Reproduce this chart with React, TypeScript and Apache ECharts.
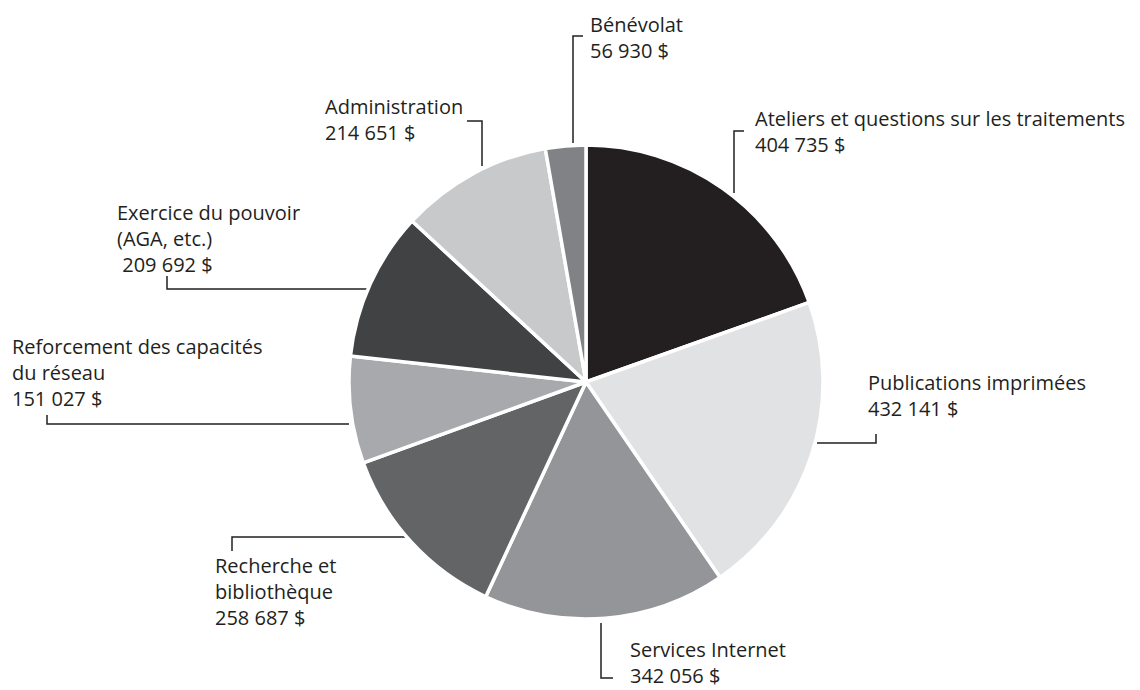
import React, { useEffect, useRef } from "react";
import * as echarts from "echarts";

const categories = [
  "Ateliers et questions sur les traitements",
  "Publications imprimées",
  "Services Internet",
  "Recherche et\nbibliothèque",
  "Reforcement des capacités\ndu réseau",
  "Exercice du pouvoir\n(AGA, etc.)",
  "Administration",
  "Bénévolat",
];
const values = [404735, 432141, 342056, 258687, 151027, 209692, 214651, 56930];
const valuePrefix = ["", "", "", "", "", " ", "", ""];
const colors = ["#231f20", "#e1e2e4", "#939598", "#636466", "#a7a9ac", "#414244", "#c8c9cb", "#808285"];

// layout: label anchor (left x, first baseline) and leader lines
const labelPos: number[][] = [
  [755, 126],
  [868, 390],
  [630, 657],
  [215, 573],
  [12, 354],
  [117, 220],
  [325, 114],
  [590, 32],
];
const leaders: number[][][] = [
  [[734, 193], [734, 131], [744, 131]],
  [[817, 443], [876, 443], [876, 434]],
  [[601, 623], [601, 678], [613, 678]],
  [[406, 537], [232, 537], [232, 551]],
  [[349, 424], [47, 424], [47, 415]],
  [[368, 289], [167, 289], [167, 276]],
  [[482, 166], [482, 121], [467, 121]],
  [[573, 143], [573, 36], [583, 36]],
];

const FONT = '"Open Sans", sans-serif';
const BASE_OFF = 21;

function fmt(v: number) {
  return v.toString().replace(/\B(?=(\d{3})+(?!\d))/g, " ") + " $";
}

export default function App() {
  const ref = useRef<HTMLDivElement>(null);
  useEffect(() => {
    if (!ref.current) return;
    const chart = echarts.init(ref.current, null, { renderer: "svg" });
    const graphics: any[] = [];
    categories.forEach((c, i) => {
      graphics.push({
        type: "polyline",
        silent: true,
        shape: { points: leaders[i] },
        style: { stroke: "#231f20", lineWidth: 1.5, fill: null },
      });
      graphics.push({
        type: "text",
        silent: true,
        x: labelPos[i][0],
        y: labelPos[i][1] - BASE_OFF,
        style: {
          text: c + "\n" + valuePrefix[i] + fmt(values[i]),
          fontFamily: FONT,
          fontSize: 20,
          lineHeight: 26,
          fill: "#231f20",
          align: "left",
          verticalAlign: "top",
        },
      });
    });
    chart.setOption({
      animation: false,
      backgroundColor: "#ffffff",
      graphic: graphics,
      series: [
        {
          type: "pie",
          center: [586, 382],
          radius: [0, 237],
          startAngle: 90,
          clockwise: true,
          label: { show: false },
          labelLine: { show: false },
          emphasis: { disabled: true },
          itemStyle: { borderColor: "#ffffff", borderWidth: 3.5 },
          data: values.map((v, i) => ({
            name: categories[i],
            value: v,
            itemStyle: { color: colors[i] },
          })),
        },
      ],
    });
    return () => chart.dispose();
  }, []);
  return (
    <div
      ref={ref}
      style={{ position: "fixed", left: 0, top: 0, width: 1140, height: 690 }}
    />
  );
}
